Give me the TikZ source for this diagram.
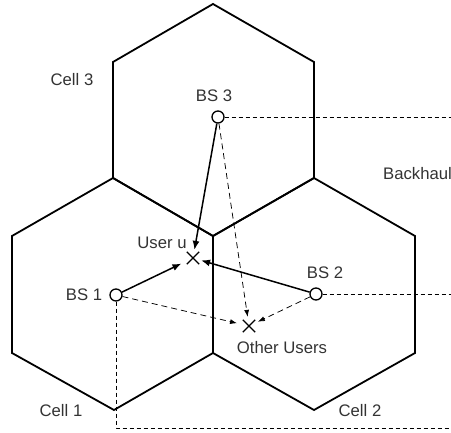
\documentclass[tikz,border=0pt]{standalone}
\usepackage{fontspec}
\setmainfont{Liberation Sans}
\usetikzlibrary{arrows.meta,shapes.misc}
\begin{document}
\begin{tikzpicture}[x=1pt,y=-1pt,
  hexline/.style={line width=1.8pt,line join=miter},
  bs/.style={circle,draw,line width=1.3pt,minimum size=12pt,inner sep=0pt},
  usr/.style={cross out,draw,line width=1.3pt,minimum size=11pt,inner sep=0pt},
  lbl/.style={font=\fontsize{16.7}{19}\selectfont,text=black!80,inner sep=0pt},
  sarrow/.style={line width=1.5pt,-{Latex[length=9pt,width=7pt]}},
  darrow/.style={line width=0.75pt,dash pattern=on 6pt off 4pt,-{Latex[length=7pt,width=5pt]}},
  bh/.style={line width=0.75pt,dash pattern=on 4pt off 3pt}]
\useasboundingbox (0,0) rectangle (451,433);
% hexagons
\draw[hexline] (213,4) -- (314,62) -- (314,178) -- (213,236) -- (113,178) -- (113,62) -- cycle;
\draw[hexline] (113,178) -- (213,236) -- (213,353) -- (114,410) -- (12,353) -- (12,236) -- cycle;
\draw[hexline] (314,178) -- (415,236) -- (415,353) -- (314,410) -- (213,353) -- (213,236) -- cycle;
% nodes
\node[bs] (bs3) at (218,117) {};
\node[bs] (bs1) at (116,295) {};
\node[bs] (bs2) at (316,294) {};
\node[usr] (uu) at (193,258) {};
\node[usr] (ou) at (249,326) {};
\coordinate (e3) at (451,117);
\coordinate (e2) at (451,294);
\coordinate (c1) at (116,428);
\coordinate (e1) at (451,428);
% backhaul
\draw[bh] (bs3) -- (e3);
\draw[bh] (bs2) -- (e2);
\draw[bh] (bs1) -- (c1) -- (e1);
% arrows
\draw[sarrow,shorten >=2pt] (bs3) -- (uu);
\draw[sarrow,shorten >=6pt] (bs1) -- (uu);
\draw[sarrow,shorten >=2pt] (bs2) -- (uu);
\draw[darrow,shorten >=3pt] (bs3) -- (ou);
\draw[darrow,shorten >=6pt] (bs1) -- (ou);
\draw[darrow,shorten >=3pt] (bs2) -- (ou);
% labels
\node[lbl] (l3) at (72,80) {Cell 3};
\node[lbl] (lb3) at (214,96) {BS 3};
\node[lbl,anchor=west] (lbh) at (383,174) {Backhaul};
\node[lbl] (lu) at (162,243) {User u};
\node[lbl] (lb1) at (84,295) {BS 1};
\node[lbl] (lb2) at (325,273) {BS 2};
\node[lbl] (lo) at (282,348) {Other Users};
\node[lbl] (l1) at (61,411) {Cell 1};
\node[lbl] (l2) at (360,411) {Cell 2};
\end{tikzpicture}
\end{document}
